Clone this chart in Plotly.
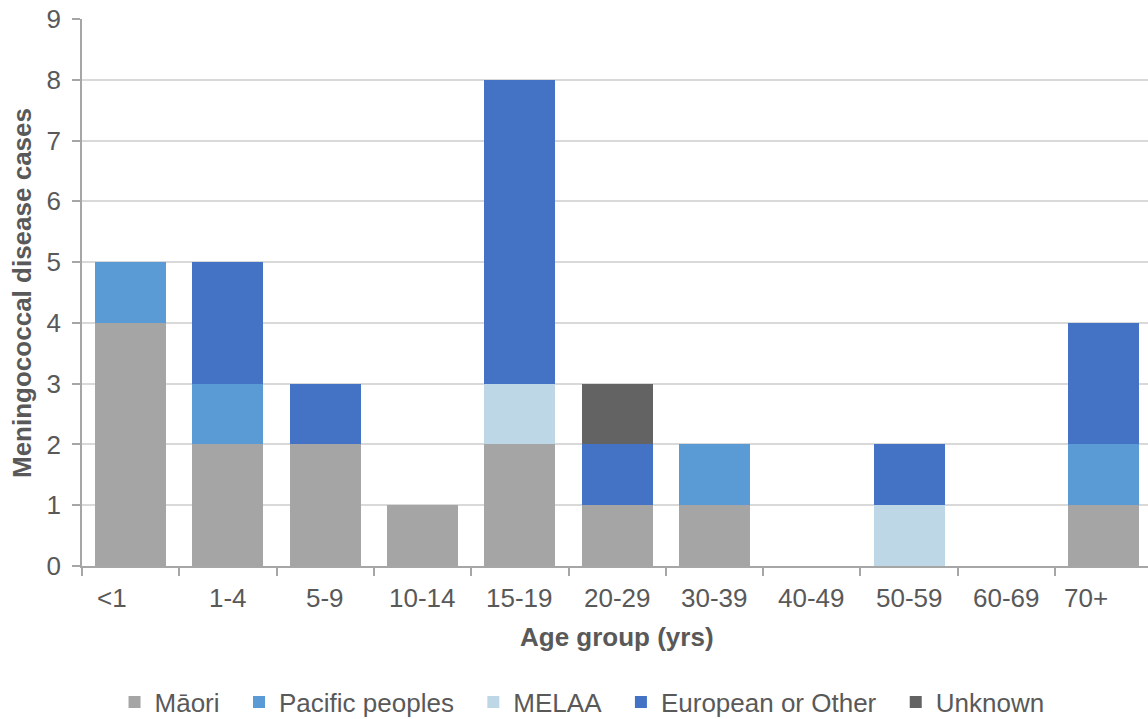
import plotly.graph_objects as go

# Meningococcal disease cases by age group and ethnicity
age_groups = ["<1", "1-4", "5-9", "10-14", "15-19", "20-29", "30-39", "40-49", "50-59", "60-69", "70+"]
maori = [4, 2, 2, 1, 2, 1, 1, 0, 0, 0, 1]
pacific = [1, 1, 0, 0, 0, 0, 1, 0, 0, 0, 1]
melaa = [0, 0, 0, 0, 1, 0, 0, 0, 1, 0, 0]
european = [0, 2, 1, 0, 5, 1, 0, 0, 1, 0, 2]
unknown = [0, 0, 0, 0, 0, 1, 0, 0, 0, 0, 0]

series = [
    ("Māori", maori, "#A5A5A5"),
    ("Pacific peoples", pacific, "#5B9BD5"),
    ("MELAA", melaa, "#BDD7E7"),
    ("European or Other", european, "#4472C4"),
    ("Unknown", unknown, "#636363"),
]

FONT = "Liberation Sans, Arial, sans-serif"
TXT = "#595959"
FS = 26
PAD = "\u00a0\u00a0"  # extra spacing between legend entries

fig = go.Figure()
for i, (name, vals, col) in enumerate(series):
    label = name + (PAD if i < len(series) - 1 else "")
    fig.add_trace(go.Bar(
        x=age_groups, y=vals, name=label,
        marker=dict(color=col, line=dict(width=0)),
        width=0.73,
    ))

W, H = 1148, 719
L, T, B = 82, 19, 153
cat_px = 97.3
x_hi = -0.5 + (W - L) / cat_px
plot_h = H - T - B

# category labels, the outer two nudged left
label_nudge = {"<1": -19, "70+": -18}
tick_annots = [
    dict(text=g, x=g, xref="x", yref="paper", y=-(598 - (H - B)) / plot_h,
         xanchor="center", yanchor="middle", showarrow=False,
         xshift=label_nudge.get(g, 0),
         font=dict(size=FS, color=TXT, family=FONT))
    for g in age_groups
]

fig.update_layout(
    width=W, height=H,
    barmode="stack",
    plot_bgcolor="white", paper_bgcolor="white",
    margin=dict(l=L, r=0, t=T, b=B),
    font=dict(family=FONT, size=FS, color=TXT),
    showlegend=True,
    legend=dict(
        orientation="h", xref="container", yref="container",
        x=0.507, xanchor="center", y=1 - 702 / H, yanchor="middle",
        font=dict(size=FS, color=TXT), traceorder="normal",
        itemwidth=30, tracegroupgap=0,
    ),
    xaxis=dict(
        type="category", range=[-0.5, x_hi], autorange=False,
        showline=True, linecolor="#A6A6A6", linewidth=1.5,
        ticks="outside", ticklen=8, tickcolor="#A6A6A6", tickwidth=1.5,
        tickson="boundaries", showgrid=False, showticklabels=False,
    ),
    yaxis=dict(
        range=[0, 9], autorange=False, dtick=1,
        showline=True, linecolor="#A6A6A6", linewidth=1.5,
        ticks="outside", ticklen=8, tickcolor="#A6A6A6", tickwidth=1.5,
        showgrid=True, gridcolor="#D9D9D9", gridwidth=1.5,
        zeroline=False,
        tickfont=dict(size=FS, color=TXT),
        ticklabelstandoff=6,
    ),
    annotations=tick_annots + [
        dict(text="<b>Age group (yrs)</b>", xref="paper", yref="paper",
             x=(617 - L) / (W - L), y=-(637 - (H - B)) / plot_h,
             xanchor="center", yanchor="middle", showarrow=False,
             font=dict(size=FS, color=TXT, family=FONT)),
        dict(text="<b>Meningococcal disease cases</b>", xref="paper", yref="paper",
             x=-(L - 22) / (W - L), y=(H - B - 293) / plot_h,
             xanchor="center", yanchor="middle", showarrow=False, textangle=-90,
             font=dict(size=FS, color=TXT, family=FONT)),
    ],
)

fig.write_html("out.html")
